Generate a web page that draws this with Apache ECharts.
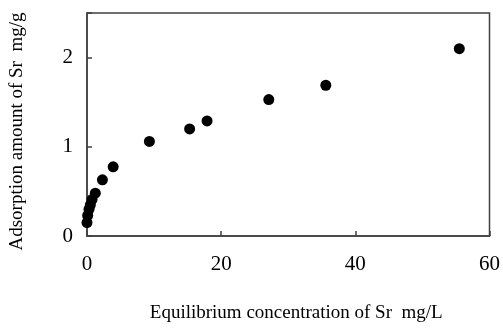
<!DOCTYPE html>
<html>
<head>
<meta charset="utf-8">
<script src="https://cdn.jsdelivr.net/npm/echarts@6/dist/echarts.min.js"></script>
<style>html,body{margin:0;padding:0;background:#fff;}#c{width:503px;height:332px;}</style>
</head>
<body>
<div id="c"></div>
<script>
const xValues = [0.0, 0.1, 0.3, 0.5, 0.75, 1.24, 2.3, 3.9, 9.3, 15.3, 17.9, 27.1, 35.6, 55.5];
const yValues = [0.15, 0.23, 0.30, 0.35, 0.41, 0.48, 0.63, 0.775, 1.06, 1.20, 1.29, 1.53, 1.69, 2.10];
const xTicks = [0, 20, 40, 60];
const yTicks = [0, 1, 2];
const xTitle = 'Equilibrium concentration of Sr\u00a0\u00a0mg/L';
const yTitle = 'Adsorption amount of Sr\u00a0\u00a0mg/g';

const font = 'Liberation Serif, Times New Roman, serif';
const chart = echarts.init(document.getElementById('c'), null, {renderer: 'canvas'});
chart.setOption({
  animation: false,
  backgroundColor: '#fff',
  grid: {left: 86, right: 12, top: 13, bottom: 96, show: true, borderColor: '#404040', borderWidth: 1.5, containLabel: false},
  xAxis: {
    type: 'value', min: 0, max: 60, interval: 20,
    name: xTitle, nameLocation: 'middle', nameGap: 68,
    nameTextStyle: {fontFamily: font, fontSize: 19, color: '#000', padding: [0, 0, 0, 16]},
    axisLine: {show: true, lineStyle: {color: '#404040', width: 1.5}},
    axisTick: {show: true, inside: true, length: 5, lineStyle: {color: '#404040', width: 1.5}},
    axisLabel: {fontFamily: font, fontSize: 21, color: '#000', margin: 18,
      formatter: v => xTicks.includes(v) ? String(v) : ''},
    splitLine: {show: false}
  },
  yAxis: {
    type: 'value', min: 0, max: 2.5, interval: 1,
    name: yTitle, nameLocation: 'middle', nameGap: 60, nameRotate: 90,
    nameTextStyle: {fontFamily: font, fontSize: 19, color: '#000', padding: [0, 14, 0, 0]},
    axisLine: {show: true, lineStyle: {color: '#404040', width: 1.5}},
    axisTick: {show: true, inside: true, length: 5, lineStyle: {color: '#404040', width: 1.5}},
    axisLabel: {fontFamily: font, fontSize: 21, color: '#000', margin: 14,
      formatter: v => yTicks.includes(v) ? String(v) : ''},
    splitLine: {show: false}
  },
  series: [{
    type: 'scatter',
    data: xValues.map((x, i) => [x, yValues[i]]),
    symbol: 'circle', symbolSize: 11,
    itemStyle: {color: '#000', opacity: 1}
  }]
});
</script>
</body>
</html>
